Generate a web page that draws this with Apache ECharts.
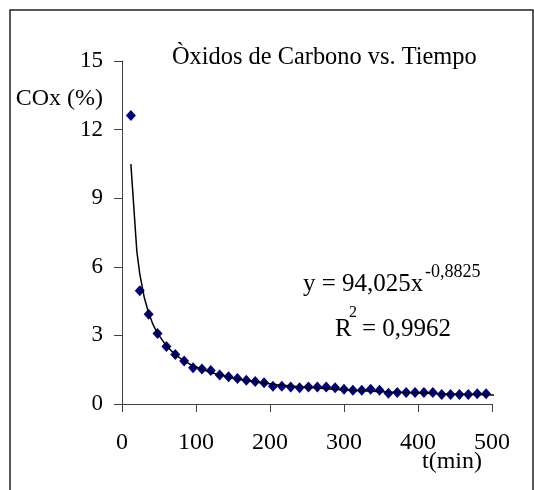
<!DOCTYPE html>
<html>
<head>
<meta charset="utf-8">
<script src="https://cdn.jsdelivr.net/npm/echarts@6/dist/echarts.min.js"></script>
<style>
html,body{margin:0;padding:0;background:#fff;}
#c{width:534px;height:490px;}
</style>
</head>
<body>
<div id="c"></div>
<script>
// Data
var times = [12,24,36,48,60,72,84,96,108,120,132,144,156,168,180,192,204,216,228,240,252,264,276,288,300,312,324,336,348,360,372,384,396,408,420,432,444,456,468,480,492];
var cox = [12.62,4.95,3.92,3.08,2.52,2.17,1.88,1.59,1.53,1.46,1.27,1.19,1.11,1.04,0.98,0.93,0.78,0.78,0.74,0.71,0.74,0.74,0.74,0.71,0.65,0.60,0.60,0.64,0.60,0.47,0.50,0.50,0.50,0.50,0.50,0.41,0.41,0.41,0.41,0.45,0.45];
// Trend line as drawn (power fit y = 94,025x^-0,8825)
var trendT = [12,20,24,30,36,42,48,60,72,84,96,120,150,180,210,240,300,360,420,503];
var trendY = [10.49,6.69,5.69,4.67,3.98,3.47,3.09,2.54,2.16,1.88,1.67,1.38,1.13,0.96,0.84,0.75,0.61,0.52,0.455,0.39];
var xTicks = [0,100,200,300,400,500];
var yTicks = [0,3,6,9,12,15];

var titleText = 'Òxidos de Carbono vs. Tiempo';
var yName = 'COx (%)';
var xName = 't(min)';
var eqMain = 'y = 94,025x';
var eqExp = '-0,8825';
var r2Main = 'R';
var r2Sup = '2';
var r2Val = '= 0,9962';

var FONT = '"Liberation Serif","Times New Roman",serif';
var AX = '#404040';

var chart = echarts.init(document.getElementById('c'), null, {renderer:'canvas'});
var pts = times.map(function(t,i){return [t,cox[i]];});
var tr = trendT.map(function(t,i){return [t,trendY[i]];});

chart.setOption({
  backgroundColor:'#ffffff',
  animation:false,
  grid:{left:122,right:42,top:61,bottom:86,containLabel:false},
  xAxis:{
    type:'value',min:xTicks[0],max:xTicks[xTicks.length-1],interval:100,
    axisLine:{show:true,lineStyle:{color:AX,width:1}},
    axisTick:{show:true,inside:false,length:8,lineStyle:{color:AX}},
    splitLine:{show:false},
    axisLabel:{color:'#000',fontFamily:FONT,fontSize:24,margin:27}
  },
  yAxis:{
    type:'value',min:yTicks[0],max:yTicks[yTicks.length-1],interval:3,
    axisLine:{show:true,lineStyle:{color:AX,width:1}},
    axisTick:{show:true,inside:false,length:8,lineStyle:{color:AX}},
    splitLine:{show:false},
    axisLabel:{color:'#000',fontFamily:FONT,fontSize:23,margin:19}
  },
  series:[
    {
      type:'scatter',data:pts,symbol:'diamond',symbolSize:[10,11],
      itemStyle:{color:'#000080',opacity:1},z:2
    },
    {
      type:'line',data:tr,showSymbol:false,symbol:'none',smooth:false,
      lineStyle:{color:'#000',width:1.5},z:3
    }
  ],
  graphic:[
    {type:'rect',shape:{x:10,y:10,width:523,height:500},style:{fill:'none',stroke:'#222',lineWidth:1.5},silent:true},
    {type:'text',x:172,y:58,style:{text:titleText,font:'24.4px '+FONT,fill:'#000',textAlign:'left',textVerticalAlign:'middle'}},
    {type:'text',x:103,y:99,style:{text:yName,font:'24px '+FONT,fill:'#000',textAlign:'right',textVerticalAlign:'middle'}},
    {type:'text',x:452,y:462,style:{text:xName,font:'24px '+FONT,fill:'#000',textAlign:'center',textVerticalAlign:'middle'}},
    {type:'text',x:303,y:284,style:{text:eqMain,font:'25px '+FONT,fill:'#000',textAlign:'left',textVerticalAlign:'middle'}},
    {type:'text',x:425,y:272,style:{text:eqExp,font:'18px '+FONT,fill:'#000',textAlign:'left',textVerticalAlign:'middle'}},
    {type:'text',x:335,y:329,style:{text:r2Main,font:'25px '+FONT,fill:'#000',textAlign:'left',textVerticalAlign:'middle'}},
    {type:'text',x:349,y:313,style:{text:r2Sup,font:'16px '+FONT,fill:'#000',textAlign:'left',textVerticalAlign:'middle'}},
    {type:'text',x:362,y:329,style:{text:r2Val,font:'25px '+FONT,fill:'#000',textAlign:'left',textVerticalAlign:'middle'}}
  ]
});
</script>
</body>
</html>
